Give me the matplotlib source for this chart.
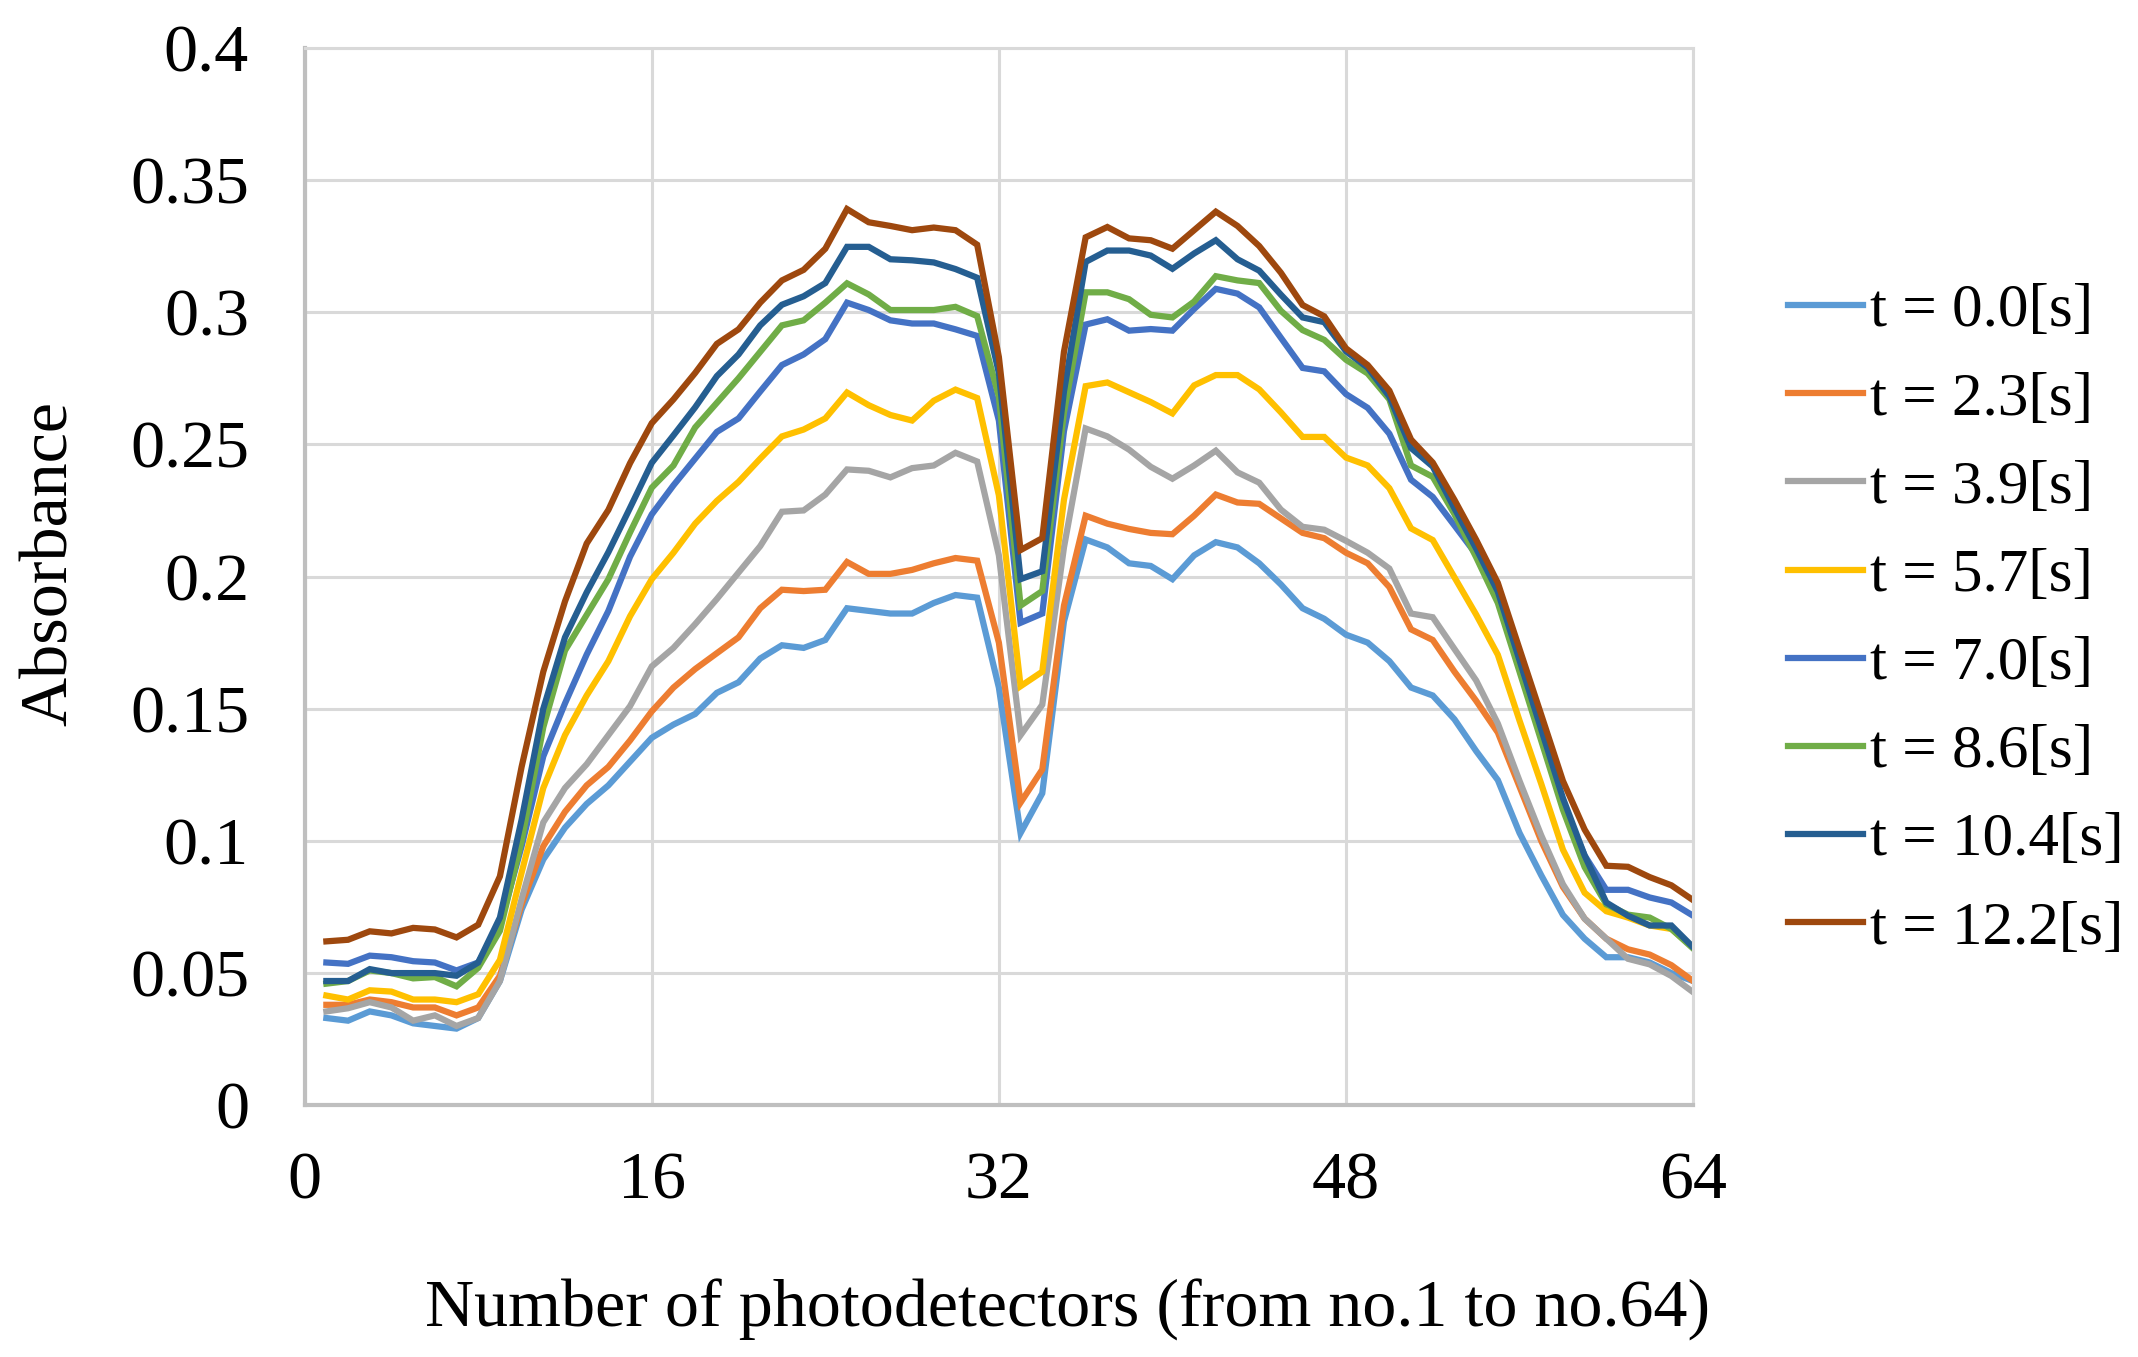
import matplotlib
matplotlib.use("Agg")
import matplotlib.pyplot as plt
import numpy as np

plt.rcParams['font.family'] = ['Liberation Serif', 'DejaVu Serif']

detector = np.arange(1, 65)

labels = ["t = 0.0[s]", "t = 2.3[s]", "t = 3.9[s]", "t = 5.7[s]",
          "t = 7.0[s]", "t = 8.6[s]", "t = 10.4[s]", "t = 12.2[s]"]
colors = ["#5B9BD5", "#ED7D31", "#A5A5A5", "#FFC000",
          "#4472C4", "#70AD47", "#255E91", "#9E480E"]

t00 = [0.033, 0.032, 0.0355, 0.034, 0.031, 0.030, 0.029, 0.033, 0.047, 0.074,
       0.093, 0.105, 0.114, 0.121, 0.130, 0.139, 0.144, 0.148, 0.156, 0.160,
       0.169, 0.174, 0.173, 0.176, 0.188, 0.187, 0.186, 0.186, 0.190, 0.193,
       0.192, 0.158, 0.103, 0.118, 0.183, 0.214, 0.211, 0.205, 0.204, 0.199,
       0.208, 0.213, 0.211, 0.205, 0.197, 0.188, 0.184, 0.178, 0.175, 0.168,
       0.158, 0.155, 0.146, 0.134, 0.123, 0.103, 0.087, 0.072, 0.063, 0.056,
       0.056, 0.054, 0.050, 0.047]
t23 = [0.038, 0.038, 0.040, 0.039, 0.037, 0.037, 0.034, 0.037, 0.049, 0.076,
       0.098, 0.111, 0.121, 0.128, 0.138, 0.149, 0.158, 0.165, 0.171, 0.177,
       0.188, 0.195, 0.1945, 0.195, 0.2055, 0.201, 0.201, 0.2025, 0.205, 0.207,
       0.206, 0.175, 0.1145, 0.127, 0.189, 0.223, 0.220, 0.218, 0.2165, 0.216,
       0.223, 0.231, 0.228, 0.2275, 0.222, 0.2165, 0.2145, 0.209, 0.205, 0.196,
       0.180, 0.176, 0.164, 0.153, 0.141, 0.1205, 0.100, 0.0826, 0.0706, 0.063,
       0.059, 0.057, 0.053, 0.047]
t39 = [0.0355, 0.0367, 0.039, 0.037, 0.032, 0.034, 0.030, 0.033, 0.047, 0.078,
       0.107, 0.120, 0.129, 0.140, 0.151, 0.166, 0.173, 0.182, 0.1915, 0.2015,
       0.2115, 0.2245, 0.225, 0.231, 0.2405, 0.240, 0.2375, 0.241, 0.242, 0.2468,
       0.2435, 0.208, 0.140, 0.1515, 0.211, 0.256, 0.253, 0.248, 0.2415, 0.237,
       0.242, 0.2476, 0.2394, 0.2355, 0.2253, 0.2188, 0.2177, 0.2135, 0.209, 0.203,
       0.186, 0.1846, 0.1726, 0.1607, 0.1444, 0.1227, 0.1021, 0.0836, 0.0706, 0.063,
       0.0554, 0.0533, 0.0489, 0.0428]
t57 = [0.0415, 0.040, 0.0435, 0.043, 0.040, 0.040, 0.039, 0.042, 0.055, 0.088,
       0.120, 0.140, 0.155, 0.168, 0.185, 0.199, 0.209, 0.220, 0.2286, 0.2358,
       0.2446, 0.253, 0.2556, 0.2598, 0.2696, 0.2648, 0.2611, 0.259, 0.2665, 0.2707,
       0.2675, 0.2307, 0.1585, 0.164, 0.229, 0.272, 0.2734, 0.2697, 0.266, 0.2617,
       0.2723, 0.2762, 0.2762, 0.2708, 0.2621, 0.2528, 0.2528, 0.245, 0.242, 0.2334,
       0.2182, 0.2138, 0.1997, 0.1856, 0.1704, 0.1455, 0.1216, 0.0967, 0.0804, 0.0734,
       0.071, 0.068, 0.0667, 0.0598]
t70 = [0.054, 0.0535, 0.0566, 0.056, 0.0545, 0.054, 0.051, 0.054, 0.068, 0.098,
       0.132, 0.152, 0.1705, 0.187, 0.2075, 0.2235, 0.2345, 0.2446, 0.2547, 0.2598,
       0.270, 0.280, 0.284, 0.2898, 0.3036, 0.3008, 0.2969, 0.2957, 0.2957, 0.2935,
       0.291, 0.259, 0.1825, 0.186, 0.255, 0.2953, 0.2973, 0.293, 0.2936, 0.293,
       0.3012, 0.3088, 0.307, 0.3018, 0.2903, 0.2789, 0.2776, 0.269, 0.2638, 0.254,
       0.2366, 0.2301, 0.2193, 0.2084, 0.1932, 0.1661, 0.140, 0.114, 0.0945, 0.0815,
       0.0815, 0.0786, 0.0767, 0.0717]
t86 = [0.046, 0.047, 0.051, 0.050, 0.048, 0.0485, 0.045, 0.052, 0.066, 0.100,
       0.143, 0.172, 0.1855, 0.199, 0.2167, 0.2336, 0.242, 0.2564, 0.2657, 0.275,
       0.285, 0.295, 0.2969, 0.3036, 0.3109, 0.3067, 0.3008, 0.3008, 0.3008, 0.302,
       0.2985, 0.268, 0.189, 0.1945, 0.262, 0.3075, 0.3075, 0.3049, 0.299, 0.298,
       0.304, 0.3136, 0.312, 0.311, 0.3005, 0.2932, 0.2895, 0.282, 0.2768, 0.267,
       0.242, 0.2377, 0.2236, 0.2073, 0.190, 0.164, 0.1379, 0.1118, 0.0901, 0.076,
       0.0721, 0.071, 0.0667, 0.0593]
t104 = [0.047, 0.047, 0.0515, 0.050, 0.050, 0.050, 0.049, 0.054, 0.071, 0.108,
        0.150, 0.177, 0.194, 0.2092, 0.226, 0.243, 0.2534, 0.264, 0.2758, 0.284,
        0.295, 0.3028, 0.306, 0.311, 0.3247, 0.3247, 0.320, 0.3196, 0.3188, 0.3163,
        0.313, 0.277, 0.199, 0.202, 0.270, 0.319, 0.3233, 0.3233, 0.3214, 0.3164,
        0.3222, 0.3272, 0.320, 0.3157, 0.3066, 0.298, 0.2962, 0.2852, 0.279, 0.2681,
        0.2486, 0.2416, 0.2258, 0.2106, 0.1943, 0.1683, 0.1422, 0.1162, 0.0945, 0.0767,
        0.0717, 0.068, 0.068, 0.0598]
t122 = [0.062, 0.0626, 0.0658, 0.065, 0.0671, 0.0665, 0.0635, 0.0683, 0.0866, 0.128,
        0.164, 0.1906, 0.2125, 0.2252, 0.2429, 0.258, 0.267, 0.277, 0.288, 0.2935,
        0.3036, 0.312, 0.316, 0.324, 0.339, 0.334, 0.3326, 0.331, 0.332, 0.331,
        0.3255, 0.283, 0.210, 0.2145, 0.285, 0.3283, 0.3322, 0.3279, 0.3272, 0.324,
        0.331, 0.338, 0.3326, 0.325, 0.3149, 0.3027, 0.2984, 0.2863, 0.280, 0.2703,
        0.2518, 0.2431, 0.229, 0.2139, 0.1976, 0.1726, 0.1477, 0.1227, 0.1043, 0.0906,
        0.0902, 0.0863, 0.0832, 0.0776]

series = [t00, t23, t39, t57, t70, t86, t104, t122]

fig = plt.figure(figsize=(21.38, 13.57), dpi=100)
ax = fig.add_axes([0.1425, 0.1855, 0.6494, 0.7793])

for vals, lab, col in zip(series, labels, colors):
    ax.plot(detector, vals, color=col, linewidth=4.5, label=lab,
            solid_joinstyle='miter')

ax.set_xlim(0, 64)
ax.set_ylim(0, 0.4)
ax.set_xticks([0, 16, 32, 48, 64])
ax.set_yticks(np.arange(0, 0.41, 0.05))
ax.set_yticklabels(["0", "0.05", "0.1", "0.15", "0.2", "0.25", "0.3", "0.35", "0.4"])
ax.grid(True, color="#D9D9D9", linewidth=2.2)
ax.set_axisbelow(True)

for s in ["top", "right"]:
    ax.spines[s].set_color("#D9D9D9")
    ax.spines[s].set_linewidth(2.2)
for s in ["left", "bottom"]:
    ax.spines[s].set_color("#BFBFBF")
    ax.spines[s].set_linewidth(3)

ax.tick_params(axis='y', length=0, pad=40, labelsize=49)
ax.tick_params(axis='x', length=0, pad=33, labelsize=49)

fig.text(0.0234, 0.585, "Absorbance", rotation=90, ha='center', va='center',
         fontsize=49)
fig.text(0.4995, 0.0221, "Number of photodetectors (from no.1 to no.64)",
         ha='center', va='baseline', fontsize=49)

fig.legend(loc='center left', bbox_to_anchor=(1788 / 2138, 0.543),
           frameon=False, fontsize=44, handlelength=1.23, handletextpad=0.12,
           labelspacing=0.53, borderpad=0, borderaxespad=0)

fig.savefig("out.png", dpi=100)
